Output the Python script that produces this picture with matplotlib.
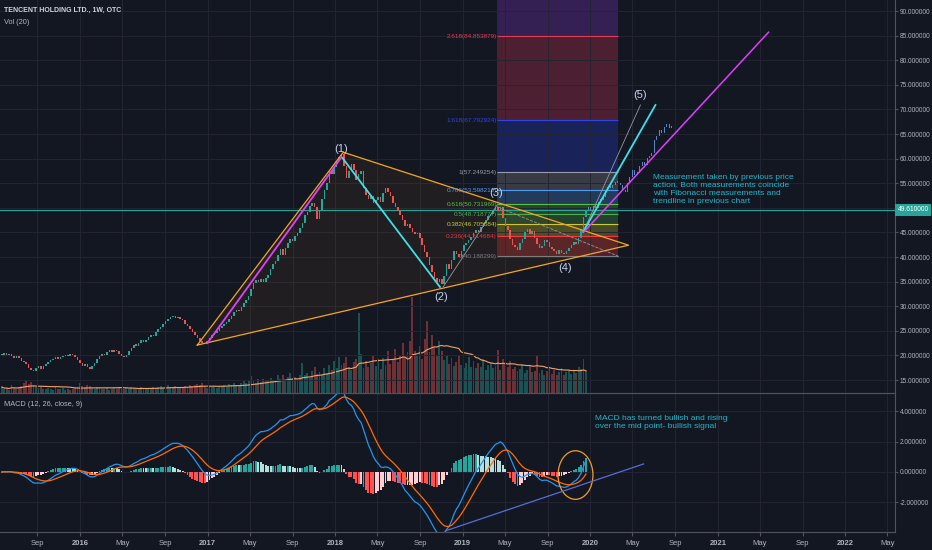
import matplotlib
matplotlib.use("Agg")
import matplotlib.pyplot as plt
import matplotlib.dates as mdates
from matplotlib.patches import Ellipse, Polygon
from matplotlib.transforms import blended_transform_factory
import numpy as np
import pandas as pd

plt.rcParams['font.family'] = ['Liberation Sans', 'DejaVu Sans']

BG = '#131722'
GRID = '#232632'
TXT = '#b2b5be'

# weekly closes, TCEHY, from 2015-05-22
closes = [
    20.1, 20.4, 20.0, 20.3, 19.9, 19.5, 19.8, 19.4, 18.9, 18.6,
    18.2, 17.4, 17.0, 16.8, 17.5, 17.8, 17.3, 17.9, 18.2, 18.6,
    19.0, 19.3, 19.6, 19.2, 19.7, 19.9, 20.1, 19.8, 20.2, 20.0,
    19.6, 19.1, 18.4, 17.8, 18.2, 17.6, 17.3, 17.9, 18.5, 19.2,
    19.8, 20.3, 20.0, 20.6, 21.0, 20.7, 21.2, 20.9, 20.2, 19.8,
    19.6, 20.1, 20.8, 21.5, 22.2, 22.0, 22.6, 23.1, 22.8, 23.2,
    23.8, 24.2, 24.0, 24.7, 25.3, 25.8, 26.4, 26.9, 27.3, 27.8,
    28.0, 27.6, 27.9, 27.4, 27.1, 26.3, 26.0, 25.3, 24.8, 24.2,
    23.6, 23.0, 22.6, 22.3, 23.0, 23.6, 24.1, 24.5, 25.0, 25.6,
    26.0, 26.4, 26.8, 27.4, 28.1, 28.8, 29.3, 29.0, 29.8, 30.6,
    31.2, 32.0, 33.5, 34.8, 35.3, 35.0, 35.6, 34.9, 35.8, 36.4,
    37.5, 38.6, 39.2, 40.5, 41.6, 40.4, 41.8, 42.9, 43.6, 43.2,
    44.2, 44.9, 45.8, 47.0, 48.5, 49.2, 50.4, 51.0, 50.1, 47.8,
    49.5, 51.8, 53.6, 55.0, 57.4, 56.8, 58.2, 59.5, 60.3, 61.0,
    58.5, 56.0, 57.5, 59.0, 57.7, 55.6, 56.8, 57.5, 54.0, 52.6,
    51.8, 52.4, 51.0, 51.6, 52.3, 51.2, 53.0, 54.0, 53.2, 52.5,
    51.0, 50.2, 49.4, 48.6, 47.5, 46.3, 46.8, 45.9, 45.0, 44.6,
    44.9, 43.8, 42.4, 41.0, 40.0, 38.4, 36.9, 35.8, 34.9, 35.6,
    34.6, 36.2, 38.6, 37.5, 39.4, 41.2, 40.6, 40.0, 41.3, 42.4,
    42.8, 43.5, 44.0, 44.8, 45.4, 45.0, 46.2, 47.0, 47.6, 48.3,
    48.8, 49.6, 50.1, 49.4, 50.2, 48.0, 46.4, 45.5, 43.6, 42.5,
    42.0, 41.4, 42.8, 43.6, 45.0, 45.6, 44.7, 45.2, 43.8, 42.6,
    41.8, 42.3, 43.5, 43.0, 42.1, 41.6, 41.2, 40.6, 41.4, 40.9,
    40.6, 41.3, 41.9, 42.4, 43.0, 42.6, 43.9, 45.6, 48.2, 49.61,
]
first_open = 20.0

# weekly volume, millions
volume = [
    1.5, 1.0, 1.2, 0.8, 2.0, 1.3, 1.0, 1.6, 1.8, 2.6,
    3.0, 2.2, 2.8, 1.9, 1.4, 1.2, 1.6, 1.1, 0.9, 1.3,
    1.1, 0.8, 1.4, 1.0, 0.9, 1.2, 0.7, 1.0, 0.8, 1.1,
    1.3, 1.6, 2.4, 1.8, 1.5, 2.0, 1.7, 1.2, 1.0, 1.4,
    1.2, 0.9, 1.1, 1.3, 0.8, 1.0, 1.2, 0.9, 1.4, 1.1,
    1.0, 1.3, 1.1, 1.5, 1.2, 0.9, 1.1, 1.4, 1.0, 1.2,
    1.3, 1.1, 1.6, 1.2, 1.4, 1.8, 1.3, 1.5, 2.0, 1.6,
    1.4, 1.7, 1.2, 1.5, 1.3, 1.8, 1.6, 2.1, 1.7, 2.0,
    2.3, 1.9, 2.6, 1.5, 1.2, 1.6, 1.4, 1.8, 1.3, 1.5,
    1.7, 2.0, 1.6, 2.2, 1.9, 2.5, 2.1, 1.8, 2.6, 3.0,
    2.6, 3.2, 4.2, 2.9, 2.4, 3.4, 2.7, 3.6, 2.9, 3.3,
    3.8, 3.1, 2.8, 4.4, 3.5, 4.6, 3.2, 3.9, 5.1, 3.7,
    4.1, 3.5, 4.5, 7.4, 4.4, 5.0, 3.8, 5.6, 6.5, 4.7,
    5.3, 4.4, 6.2, 5.1, 7.1, 5.7, 7.9, 6.3, 9.0, 6.9,
    7.5, 9.0, 6.4, 5.8, 7.8, 8.6, 20.0, 9.8, 6.2, 8.0,
    6.4, 7.4, 9.2, 6.8, 8.4, 6.0, 8.8, 7.0, 10.6, 7.2,
    8.6, 11.0, 7.8, 9.6, 12.4, 9.0, 10.2, 13.0, 24.0, 10.4,
    9.4, 11.8, 8.6, 13.6, 18.0, 10.2, 14.6, 11.4, 9.2, 13.0,
    10.6, 8.2, 9.4, 7.2, 8.8, 6.8, 7.8, 9.6, 7.0, 6.2,
    7.6, 9.0, 6.6, 8.0, 6.2, 7.4, 6.4, 8.4, 5.8, 7.0,
    7.4, 6.2, 6.8, 10.8, 5.8, 8.6, 7.6, 6.4, 8.0, 6.0,
    6.6, 5.4, 6.0, 7.2, 5.0, 5.8, 7.0, 5.2, 5.6, 9.4,
    5.0, 5.8, 4.6, 5.4, 6.6, 4.8, 5.8, 4.4, 5.2, 6.2,
    4.6, 5.2, 5.8, 4.8, 5.6, 5.0, 6.6, 6.0, 8.4, 5.6,
]

# projected "bars pattern" drawn after the last real candle
proj_closes = [
    50.2, 49.6, 50.4, 50.0, 51.2, 51.6, 52.2, 53.4, 54.3, 54.0,
    54.6, 55.3, 55.0, 54.6, 53.6, 53.2, 55.0, 56.2, 57.6, 56.7,
    57.0, 58.4, 59.3, 58.8, 60.1, 60.6, 61.1, 63.8, 64.5, 65.8,
    65.2, 66.4, 67.0, 66.2, 66.6,
]

# fib retracement drawing
fib_low, fib_high = 40.188299, 57.249254
fib_ratios = [0, 0.236, 0.382, 0.5, 0.618, 0.786, 1, 1.618, 2.618, 3.618]
fib_colors = ['#787b86', '#f23645', '#c8cc35', '#4caf50', '#5cbf45',
              '#4f9cf0', '#9a9ca6', '#2f45e8', '#e33a55', '#8e3ad6']
fib_span = ('2019-04-10', '2020-03-21')

# wave drawings (date, price)
triangle = [('2016-12-02', 22.1), ('2018-01-24', 61.3), ('2020-04-20', 42.4)]
magenta1 = [('2016-12-31', 22.5), ('2018-01-19', 60.3)]
cyan1 = [('2018-01-22', 60.1), ('2018-10-28', 33.9)]
gray1 = [('2018-11-06', 33.9), ('2019-04-10', 50.6)]
gray_dash = [('2019-04-10', 50.2), ('2020-03-27', 40.0)]
gray2 = [('2019-12-12', 45.1), ('2020-05-24', 70.9)]
cyan2 = [('2019-12-12', 45.1), ('2020-07-06', 70.9)]
magenta2 = [('2019-12-14', 45.1), ('2021-05-26', 85.7)]
wave_labels = [('(1)', '2018-01-19', 62.0), ('(2)', '2018-10-30', 31.9),
               ('(3)', '2019-04-08', 53.0), ('(4)', '2019-10-22', 37.8),
               ('(5)', '2020-05-24', 73.0)]
last_price = 49.61

note1 = ("Measurement taken by previous price\naction. Both measurements coincide\n"
         "with Fibonacci measurements and\ntrendline in previous chart")
note2 = "MACD has turned bullish and rising\nover the mid point- bullish signal"

tick_dates = ['2015-09-01', '2016-01-01', '2016-05-01', '2016-09-01', '2017-01-01',
              '2017-05-01', '2017-09-01', '2018-01-01', '2018-05-01', '2018-09-01',
              '2019-01-01', '2019-05-01', '2019-09-01', '2020-01-01', '2020-05-01',
              '2020-09-01', '2021-01-01', '2021-05-01', '2021-09-01', '2022-01-01',
              '2022-05-01']
tick_labels = ['Sep', '2016', 'May', 'Sep', '2017', 'May', 'Sep', '2018', 'May', 'Sep',
               '2019', 'May', 'Sep', '2020', 'May', 'Sep', '2021', 'May', 'Sep', '2022', 'May']


def d(s):
    return mdates.date2num(pd.Timestamp(s))


def line(axis, pts, **kw):
    axis.plot([d(p[0]) for p in pts], [p[1] for p in pts], **kw)


dates = mdates.date2num(pd.date_range('2015-05-22', periods=len(closes), freq='7D'))
opens = np.array([first_open] + closes[:-1])
cl = np.array(closes)
pdates = mdates.date2num(pd.date_range('2019-12-27', periods=len(proj_closes), freq='7D'))
popens = np.array([closes[-1]] + proj_closes[:-1])
pcl = np.array(proj_closes)

s = pd.Series(closes)
macd = s.ewm(span=12, adjust=False).mean() - s.ewm(span=26, adjust=False).mean()
signal = macd.ewm(span=9, adjust=False).mean()
hist = (macd - signal).values
vol_ma = pd.Series(volume).rolling(20, min_periods=1).mean()

fig = plt.figure(figsize=(9.32, 5.5), dpi=100, facecolor=BG)
W = 895 / 932
ax = fig.add_axes([0, 1 - 393 / 550, W, 393 / 550])
axm = fig.add_axes([0, 18 / 550, W, 139 / 550], sharex=ax)
axv = ax.twinx()
ax.set_zorder(axv.get_zorder() + 1)
ax.patch.set_visible(False)
axv.set_facecolor(BG)

# volume
up = cl >= opens
vcol = np.where(up, '#26a69a', '#ef5350')
axv.bar(dates, volume, width=5.5, color=vcol, alpha=0.42, lw=0)
axv.plot(dates, vol_ma, color='#f0a36a', lw=0.8)
axv.set_ylim(0, max(volume) * 4.1)
axv.axis('off')

# fib zones
fx0, fx1 = d(fib_span[0]), d(fib_span[1])
levels = [fib_low + r * (fib_high - fib_low) for r in fib_ratios]
for i in range(len(levels) - 1):
    ax.fill_between([fx0, fx1], levels[i], levels[i + 1], color=fib_colors[i + 1],
                    alpha=0.28, lw=0, zorder=0.5)
for r, lv, c in zip(fib_ratios, levels, fib_colors):
    ax.hlines(lv, fx0, fx1, color=c, lw=0.8, zorder=0.6)
    if lv < 90:
        ax.text(fx0 - 1, lv, f'{r:g}({lv:.6f})', color=c, fontsize=4.6,
                ha='right', va='center', zorder=5)

# triangle
tri = Polygon([[d(p[0]), p[1]] for p in triangle], closed=True,
              facecolor='#ff9800', alpha=0.06, edgecolor='none', zorder=1)
ax.add_patch(tri)
line(ax, triangle + triangle[:1], color='#f5a623', lw=0.9, zorder=4)

# candles
ccol = np.where(up, '#26a69a', '#ef5350')
body = np.maximum(np.abs(cl - opens), 0.25)
ax.bar(dates, body, bottom=np.minimum(cl, opens), width=4.5, color=ccol, lw=0, zorder=3)
pbody = np.maximum(np.abs(pcl - popens), 0.5)
ax.bar(pdates, pbody, bottom=np.minimum(pcl, popens), width=3.0, color='#5b95d6',
       lw=0, alpha=0.9, zorder=3)

# wave lines
line(ax, magenta1, color='#e040fb', lw=1.3, zorder=4)
line(ax, cyan1, color='#3fe0e8', lw=1.3, zorder=4)
line(ax, gray1, color='#9598a1', lw=0.6, zorder=4)
line(ax, gray_dash, color='#9598a1', lw=0.6, ls='--', zorder=4)
line(ax, gray2, color='#9598a1', lw=0.6, zorder=4)
line(ax, cyan2, color='#3fe0e8', lw=1.3, zorder=4)
line(ax, magenta2, color='#e040fb', lw=1.1, zorder=4)
for lab, ds, pv in wave_labels:
    ax.text(d(ds), pv, lab, color='#c5d3ec', fontsize=8, ha='center', va='center', zorder=5)

ax.axhline(last_price, color='#26a69a', lw=0.8, zorder=2)
ax.text(d('2020-06-30'), 56.9, note1, color='#26b5c9', fontsize=6, va='top',
        linespacing=1.2, zorder=5)

tr = blended_transform_factory(ax.transAxes, ax.transData)
ax.text(1.003, last_price, f'{last_price:.6f}', transform=tr, color='white', fontsize=4.8,
        va='center', ha='left', zorder=6,
        bbox=dict(boxstyle='square,pad=0.35', facecolor='#26a69a', edgecolor='none'))

# macd pane
hcol = []
for i, h in enumerate(hist):
    prev = hist[i - 1] if i > 0 else 0
    if h >= 0:
        hcol.append('#26a69a' if h >= prev else '#b2dfdb')
    else:
        hcol.append('#ffcdd2' if h >= prev else '#ff5252')
axm.bar(dates, hist, width=5.5, color=hcol, lw=0, zorder=2)
axm.plot(dates, macd, color='#2196f3', lw=0.9, zorder=3)
axm.plot(dates, signal, color='#ff6d00', lw=0.9, zorder=3)
axm.add_patch(Ellipse((d('2019-11-20'), -0.2), 100, 3.2, fill=False,
                      edgecolor='#f39c2a', lw=0.9, zorder=4))
line(axm, [('2018-11-12', -3.88), ('2020-06-02', 0.53)], color='#5c6bd6', lw=0.9, zorder=4)
axm.text(d('2020-01-15'), 3.75, note2, color='#26b5c9', fontsize=6, va='top',
         linespacing=1.2, zorder=5)

# axes styling
ax.set_xlim(d('2015-05-17'), d('2022-05-23'))
ax.set_ylim(12.36, 92.24)
axm.set_ylim(-3.95, 5.2)
ax.set_yticks(np.arange(15, 91, 5))
axm.set_yticks([-2, 0, 2, 4])
for a in (ax, axm):
    a.set_facecolor(BG)
    a.grid(True, color=GRID, lw=0.7, zorder=0)
    a.set_axisbelow(True)
    a.yaxis.tick_right()
    a.tick_params(axis='y', colors='#50535e', labelcolor=TXT, labelsize=4.7,
                  length=2.5, pad=1)
    for sp in ('left', 'top'):
        a.spines[sp].set_visible(False)
    a.spines['right'].set_color('#50535e')
    a.spines['bottom'].set_color('#50535e')
# the last-price label covers the 50 tick label
ax.yaxis.set_major_formatter(plt.FuncFormatter(lambda v, p: '' if abs(v - 50) < 1e-6 else f'{v:.6f}'))
axm.yaxis.set_major_formatter(plt.FuncFormatter(lambda v, p: f'{v:.6f}'))
axm.spines['top'].set_visible(True)
axm.spines['top'].set_color('#50535e')

axm.set_xticks([d(t) for t in tick_dates])
axm.set_xticklabels(tick_labels)
axm.tick_params(axis='x', colors='#50535e', labelcolor=TXT, labelsize=5.5, length=3, pad=3)
for lbl in axm.get_xticklabels():
    if lbl.get_text().isdigit():
        lbl.set_fontweight('bold')
ax.tick_params(axis='x', labelbottom=False, length=0)

fig.text(4 / 932, 1 - 10 / 550, 'TENCENT HOLDING LTD., 1W, OTC', color='#d1d4dc',
         fontsize=5, fontweight='bold', va='center')
fig.text(4 / 932, 1 - 22 / 550, 'Vol (20)', color=TXT, fontsize=5.3, va='center')
fig.text(4 / 932, 1 - 405 / 550, 'MACD (12, 26, close, 9)', color=TXT, fontsize=5.3, va='center')

fig.savefig('out.png', dpi=100, facecolor=BG)
